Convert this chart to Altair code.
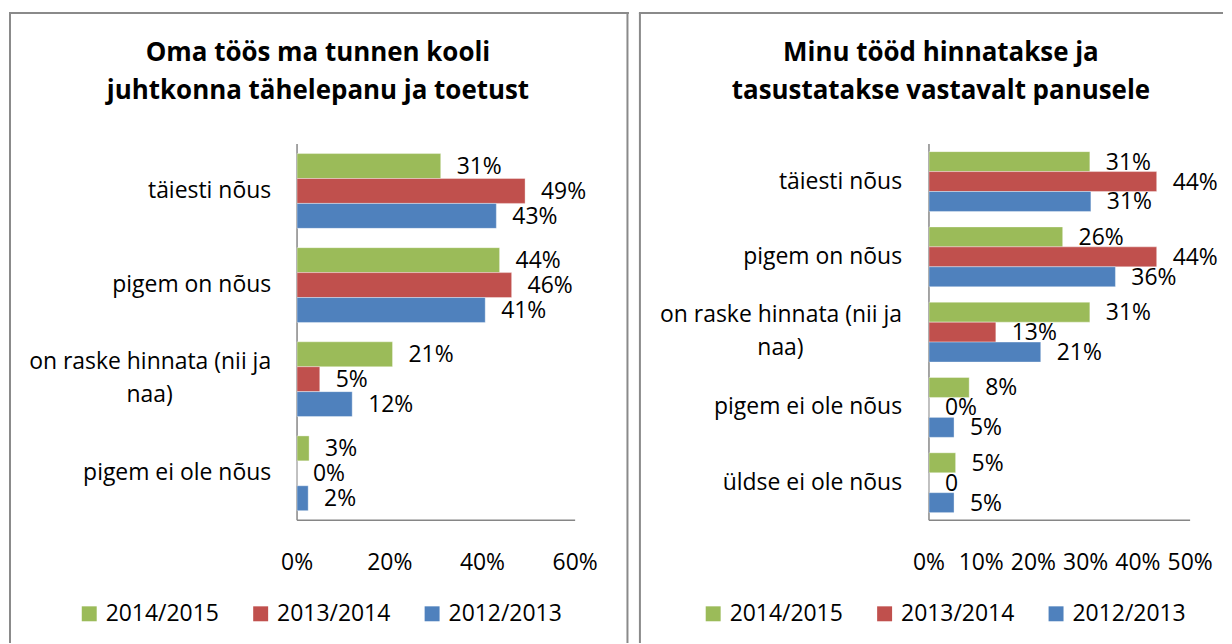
import altair as alt
import pandas as pd

FONT = "Open Sans"

SERIES = ["2014/2015", "2013/2014", "2012/2013"]
COLORS = ["#9BBB59", "#C0504D", "#4F81BD"]

# ---------- left panel ----------
LEFT_TITLE_1 = "Oma töös ma tunnen kooli"
LEFT_TITLE_2 = "juhtkonna tähelepanu ja toetust"
LEFT_CATEGORIES = ["täiesti nõus", "pigem on nõus", "on raske hinnata (nii ja naa)", "pigem ei ole nõus"]
LEFT_LINE1 = ["täiesti nõus", "pigem on nõus", "on raske hinnata (nii ja", "pigem ei ole nõus"]
LEFT_LINE2 = ["", "", "naa)", ""]
LEFT_2014_2015 = [31.0, 43.7, 20.6, 2.6]
LEFT_2013_2014 = [49.2, 46.3, 4.9, 0.0]
LEFT_2012_2013 = [43.0, 40.6, 11.9, 2.4]
LEFT_LABELS_2014_2015 = ["31%", "44%", "21%", "3%"]
LEFT_LABELS_2013_2014 = ["49%", "46%", "5%", "0%"]
LEFT_LABELS_2012_2013 = ["43%", "41%", "12%", "2%"]
LEFT_TICKS = [0, 20, 40, 60]
LEFT_TICK_LABELS = ["0%", "20%", "40%", "60%"]

# ---------- right panel ----------
RIGHT_TITLE_1 = "Minu tööd hinnatakse ja"
RIGHT_TITLE_2 = "tasustatakse vastavalt panusele"
RIGHT_CATEGORIES = ["täiesti nõus", "pigem on nõus", "on raske hinnata (nii ja naa)",
                    "pigem ei ole nõus", "üldse ei ole nõus"]
RIGHT_LINE1 = ["täiesti nõus", "pigem on nõus", "on raske hinnata (nii ja",
               "pigem ei ole nõus", "üldse ei ole nõus"]
RIGHT_LINE2 = ["", "", "naa)", "", ""]
RIGHT_2014_2015 = [30.8, 25.6, 30.8, 7.7, 5.1]
RIGHT_2013_2014 = [43.6, 43.6, 12.8, 0.0, 0.0]
RIGHT_2012_2013 = [31.0, 35.7, 21.4, 4.8, 4.8]
RIGHT_LABELS_2014_2015 = ["31%", "26%", "31%", "8%", "5%"]
RIGHT_LABELS_2013_2014 = ["44%", "44%", "13%", "0%", "0"]
RIGHT_LABELS_2012_2013 = ["31%", "36%", "21%", "5%", "5%"]
RIGHT_TICKS = [0, 10, 20, 30, 40, 50]
RIGHT_TICK_LABELS = ["0%", "10%", "20%", "30%", "40%", "50%"]

AXIS_COLOR = "#868686"
BORDER_COLOR = "#8a8a8a"
H = 636
PLOT_TOP = 135.3
PLOT_BOTTOM = 513


def make_panel(title1, title2, cats, line1, line2, vals, labs, ticks, tick_labels,
               xmax, width, xrange, title_x, label_right, right_border, legend_x):
    rows = []
    for s, v_list, l_list in zip(SERIES, vals, labs):
        for c, v, l in zip(cats, v_list, l_list):
            rows.append({"cat": c, "series": s, "value": v, "label": l})
    df = pd.DataFrame(rows)
    cat_df = pd.DataFrame({"cat": cats, "line1": line1, "line2": line2})
    tick_df = pd.DataFrame({"tick": ticks, "tick_label": tick_labels})
    axis_df = pd.DataFrame({"x0": [0], "x1": [xmax]})
    dummy = pd.DataFrame({"d": [0]})

    xs = alt.Scale(domain=[0, xmax], range=xrange, nice=False, zero=True)
    ys = alt.Scale(domain=cats, range=[PLOT_TOP, PLOT_BOTTOM], paddingInner=0, paddingOuter=0)
    yos = alt.Scale(domain=SERIES, paddingInner=0, paddingOuter=0.388)
    cs = alt.Scale(domain=SERIES, range=COLORS)

    Y = alt.Y("cat:N", scale=ys, axis=None, sort=cats)
    YO = alt.YOffset("series:N", scale=yos, sort=SERIES)

    bars = alt.Chart(df).mark_bar(stroke="white", strokeWidth=0.6, strokeOpacity=0.6).encode(
        x=alt.X("value:Q", scale=xs, axis=None),
        y=Y,
        yOffset=YO,
        color=alt.Color("series:N", scale=cs, sort=SERIES,
                        legend=alt.Legend(orient="none", legendX=legend_x, legendY=595,
                                          direction="horizontal", columns=3, title=None,
                                          symbolType="square", symbolSize=225,
                                          symbolStrokeWidth=0, labelFont=FONT,
                                          labelFontSize=23, labelColor="#000000",
                                          labelOffset=5, columnPadding=30, padding=0,
                                          labelLimit=300)),
    )
    values = alt.Chart(df).mark_text(align="left", baseline="middle", dx=16, dy=1,
                                     font=FONT, fontSize=23, color="#000000").encode(
        x=alt.X("value:Q", scale=xs, axis=None), y=Y, yOffset=YO, text="label:N")

    single = alt.Chart(cat_df).transform_filter(alt.datum.line2 == "").mark_text(
        align="right", baseline="middle", font=FONT, fontSize=23, color="#000000").encode(
        x=alt.value(label_right), y=Y, text="line1:N")
    multi1 = alt.Chart(cat_df).transform_filter(alt.datum.line2 != "").mark_text(
        align="right", baseline="middle", dy=-17, font=FONT, fontSize=23, color="#000000").encode(
        x=alt.value(label_right), y=Y, text="line1:N")
    multi2 = alt.Chart(cat_df).transform_filter(alt.datum.line2 != "").mark_text(
        align="center", baseline="middle", dy=16, font=FONT, fontSize=23, color="#000000").encode(
        x=alt.value(label_right - 122), y=Y, text="line2:N")

    ticks_txt = alt.Chart(tick_df).mark_text(align="center", baseline="middle", font=FONT,
                                            fontSize=23, color="#000000").encode(
        x=alt.X("tick:Q", scale=xs, axis=None), y=alt.value(556), text="tick_label:N")

    y_axis = alt.Chart(axis_df).mark_rule(color=AXIS_COLOR, strokeWidth=1.5).encode(
        x=alt.X("x0:Q", scale=xs, axis=None), y=alt.value(PLOT_TOP), y2=alt.value(PLOT_BOTTOM))
    x_axis = alt.Chart(axis_df).mark_rule(color=AXIS_COLOR, strokeWidth=1.5).encode(
        x=alt.X("x0:Q", scale=xs, axis=None), x2="x1:Q", y=alt.value(PLOT_BOTTOM))

    t1 = alt.Chart(dummy).mark_text(text=title1, align="center", baseline="middle", font=FONT,
                                    fontSize=26, fontWeight="bold", color="#000000").encode(
        x=alt.value(title_x), y=alt.value(44))
    t2 = alt.Chart(dummy).mark_text(text=title2, align="center", baseline="middle", font=FONT,
                                    fontSize=26, fontWeight="bold", color="#000000").encode(
        x=alt.value(title_x), y=alt.value(82))

    border_layers = [
        alt.Chart(dummy).mark_rule(color=BORDER_COLOR, strokeWidth=2).encode(
            x=alt.value(1), y=alt.value(4), y2=alt.value(H)),
        alt.Chart(dummy).mark_rule(color=BORDER_COLOR, strokeWidth=2).encode(
            x=alt.value(0), x2=alt.value(width), y=alt.value(4)),
    ]
    if right_border is not None:
        border_layers.append(alt.Chart(dummy).mark_rule(color=BORDER_COLOR, strokeWidth=2).encode(
            x=alt.value(right_border), y=alt.value(4), y2=alt.value(H)))

    return alt.layer(*border_layers, y_axis, x_axis, bars, values, single, multi1, multi2,
                     ticks_txt, t1, t2).properties(width=width, height=H)


left = make_panel(LEFT_TITLE_1, LEFT_TITLE_2, LEFT_CATEGORIES, LEFT_LINE1, LEFT_LINE2,
                  [LEFT_2014_2015, LEFT_2013_2014, LEFT_2012_2013],
                  [LEFT_LABELS_2014_2015, LEFT_LABELS_2013_2014, LEFT_LABELS_2012_2013],
                  LEFT_TICKS, LEFT_TICK_LABELS, 60, 622, [289, 568], 310, 263, 620.5, 69)
right = make_panel(RIGHT_TITLE_1, RIGHT_TITLE_2, RIGHT_CATEGORIES, RIGHT_LINE1, RIGHT_LINE2,
                   [RIGHT_2014_2015, RIGHT_2013_2014, RIGHT_2012_2013],
                   [RIGHT_LABELS_2014_2015, RIGHT_LABELS_2013_2014, RIGHT_LABELS_2012_2013],
                   RIGHT_TICKS, RIGHT_TICK_LABELS, 50, 586, [291, 553], 303, 264, None, 63)

chart = alt.hconcat(left, right, spacing=8).resolve_scale(
    x="independent", y="independent", color="independent", yOffset="independent"
).resolve_legend(color="independent").properties(padding=0).configure_view(stroke=None)

chart.save("out.html", embed_options={"renderer": "svg", "actions": False})
